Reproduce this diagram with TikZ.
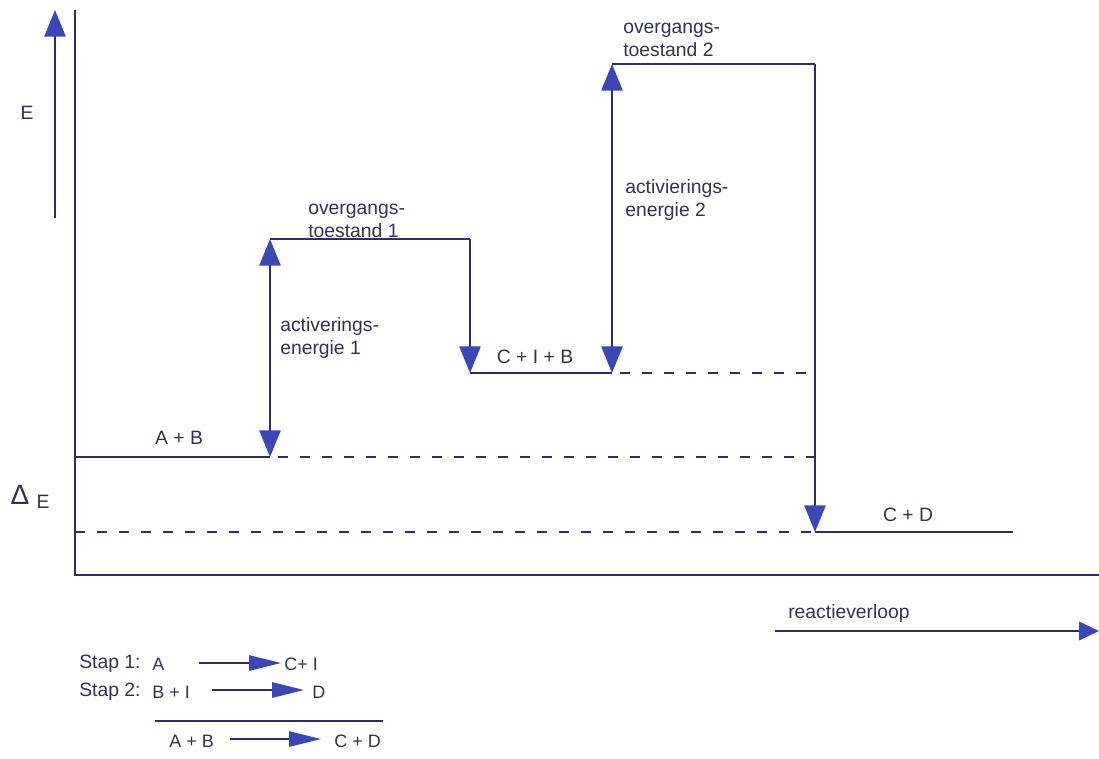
\documentclass[tikz,border=0pt]{standalone}
\usepackage{fontspec}
\setmainfont{Liberation Sans}
\usetikzlibrary{arrows.meta}
\definecolor{ln}{RGB}{45,45,105}
\definecolor{hd}{RGB}{60,70,185}
\definecolor{tx}{RGB}{50,50,85}
\begin{document}
\begin{tikzpicture}[x=0.75pt,y=-0.75pt,
  every node/.style={text=tx,font=\fontsize{14.5}{17}\selectfont,inner sep=0pt},
  frm/.style={anchor=west,font=\fontsize{13.5}{16}\selectfont},
  lvl/.style={draw=ln,line width=1.3pt},
  dsh/.style={draw=ln,line width=1.1pt,dash pattern=on 7.5pt off 9pt},
  big/.style={-{Triangle[length=20pt,width=16pt,fill=hd,color=hd]}},
  bigb/.style={{Triangle[length=20pt,width=16pt,fill=hd,color=hd]}-{Triangle[length=20pt,width=16pt,fill=hd,color=hd]}},
  small/.style={-{Triangle[length=24pt,width=11.5pt,fill=hd,color=hd]}},
  lbl/.style={anchor=west,align=left}]
\useasboundingbox (0,0) rectangle (1099,758);
% axes
\coordinate (o) at (75,575);
\coordinate (ytop) at (75,10);
\coordinate (xend) at (1099,575);
\draw[lvl] (ytop) -- (o) -- (xend);
\coordinate (e0) at (55,218);
\coordinate (e1) at (55,10);
\draw[lvl,big] (e0) -- (e1);
\node (E) at (27,113) {E};
\node (dD) at (20,495) {\fontsize{21}{21}\selectfont Δ};
\node (dE) at (43,502) {E};
% levels
\coordinate (ab0) at (75,457);
\coordinate (ab1) at (270,457);
\coordinate (ts1a) at (270,239);
\coordinate (ts1b) at (470,239);
\coordinate (cib0) at (470,373);
\coordinate (cib1) at (612,373);
\coordinate (ts2a) at (612,64);
\coordinate (ts2b) at (815,64);
\coordinate (cd0) at (815,532);
\coordinate (cd1) at (1013,532);
\coordinate (dl0) at (75,532);
\coordinate (abd) at (815,457);
\coordinate (cibd) at (815,373);
\draw[lvl] (ab0) -- (ab1);
\draw[lvl] (ts1a) -- (ts1b);
\draw[lvl,big] (ts1b) -- (cib0);
\draw[lvl] (cib0) -- (cib1);
\draw[lvl] (ts2a) -- (ts2b);
\draw[lvl,big] (ts2b) -- (cd0);
\draw[lvl] (cd0) -- (cd1);
\draw[lvl,bigb] (ab1) -- (ts1a);
\draw[lvl,bigb] (cib1) -- (ts2a);
\draw[dsh] ([xshift=6]ab1) -- (abd);
\draw[dsh] ([xshift=6]cib1) -- (cibd);
\draw[dsh] (dl0) -- (cd0);
% labels
\node (lab) at (179,438) {A + B};
\node[lbl] (lts1) at (308,221) {overgangs-\\toestand 1};
\node[lbl] (lae1) at (280,338) {activerings-\\energie 1};
\node (lcib) at (535,357) {C + I + B};
\node[lbl] (lts2) at (623,40) {overgangs-\\toestand 2};
\node[lbl] (lae2) at (625,200) {activierings-\\energie 2};
\node (lcd) at (908,515) {C + D};
% reactieverloop
\coordinate (r0) at (775,631);
\coordinate (r1) at (1099,631);
\draw[lvl,-{Triangle[length=15pt,width=14pt,fill=hd,color=hd]}] (r0) -- (r1);
\node[lbl] (lr) at (788,613) {reactieverloop};
% equations
\node[lbl] (s1) at (79,664) {Stap 1:};
\node[frm] (s1l) at (152,664) {A};
\coordinate (s1a) at (199,663);
\coordinate (s1b) at (281,663);
\draw[lvl,small] (s1a) -- (s1b);
\node[frm] (s1r) at (284,664) {C+ I};
\node[lbl] (s2) at (79,692) {Stap 2:};
\node[frm] (s2l) at (152,692) {B + I};
\coordinate (s2a) at (212,690);
\coordinate (s2b) at (304,690);
\draw[lvl,small] (s2a) -- (s2b);
\node[frm] (s2r) at (312,692) {D};
\coordinate (h0) at (155,721);
\coordinate (h1) at (383,721);
\draw[lvl] (h0) -- (h1);
\node[frm] (s3) at (169,741) {A + B};
\coordinate (s3a) at (230,739);
\coordinate (s3b) at (321,739);
\draw[lvl,small] (s3a) -- (s3b);
\node[frm] (s3r) at (334,741) {C + D};
\end{tikzpicture}
\end{document}
